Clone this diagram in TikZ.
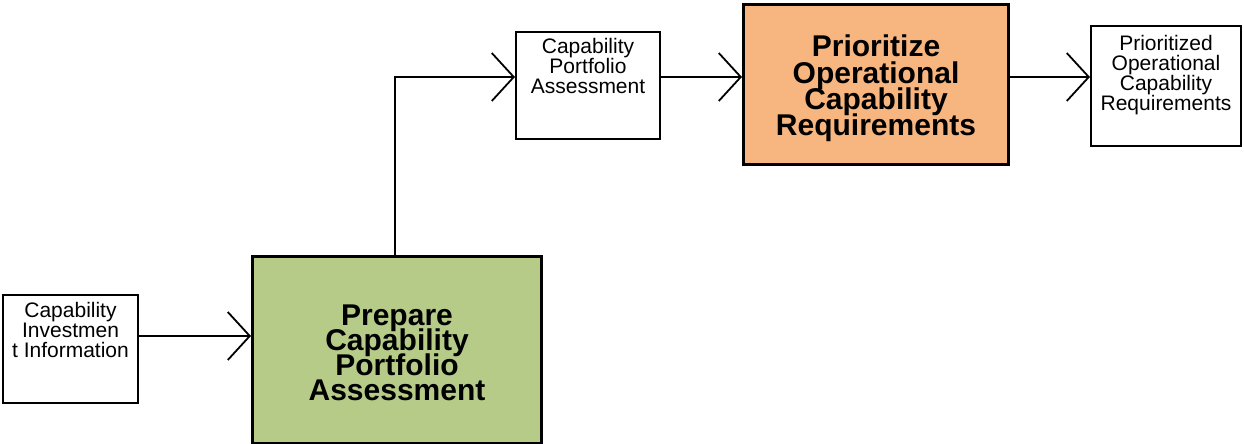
\documentclass[tikz,border=0pt]{standalone}
\usepackage{fontspec}
\setmainfont{Liberation Sans}
\usetikzlibrary{arrows.meta}
\definecolor{pgreen}{RGB}{183,203,136}
\definecolor{porange}{RGB}{247,182,128}
\newcommand\smallfnt{\fontsize{21}{20}\selectfont\lineskiplimit-50pt\relax}
\newcommand\bigfnt{\fontsize{30}{25}\selectfont\bfseries\lineskiplimit-50pt\relax}
\newcommand\bigfntb{\fontsize{30}{26.3}\selectfont\bfseries\lineskiplimit-50pt\relax}
\tikzset{
  databox/.style={draw=black, line width=2pt, fill=white, inner sep=0pt, anchor=north west},
  procbox/.style={draw=black, line width=3pt, inner sep=0pt, anchor=north west},
  smalltext/.style={inner sep=0pt, anchor=north, align=center, font=\smallfnt},
  bigtext/.style={inner sep=0pt, align=center, font=\bigfnt},
  flow/.style={line width=2pt, -{Straight Barb[length=22pt,width=48pt,line width=1.8pt]}},
}
\begin{document}
\begin{tikzpicture}[x=1pt,y=-1pt]
\useasboundingbox (0,0) rectangle (1244,444);
% boxes
\node[databox, minimum width=135pt, minimum height=108pt] (inp) at (2,294) {};
\node[smalltext] (inpt) at ([yshift=-8pt]inp.north) {Capability\\Investmen\\t Information};
\node[procbox, fill=pgreen, minimum width=289pt, minimum height=187pt] (prep) at (251,255) {};
\node[bigtext] (prept) at ([yshift=-2.5pt]prep.center) {Prepare\\Capability\\Portfolio\\Assessment};
\node[databox, minimum width=144pt, minimum height=107pt] (cpa) at (515,31) {};
\node[smalltext] (cpat) at ([yshift=-7pt]cpa.north) {Capability\\Portfolio\\Assessment};
\node[procbox, fill=porange, minimum width=265pt, minimum height=160pt] (prio) at (742,3) {};
\node[bigtext, font=\bigfntb] (priot) at ([yshift=-4pt]prio.center) {Prioritize\\Operational\\Capability\\Requirements};
\node[databox, minimum width=150pt, minimum height=120pt] (outp) at (1090,25) {};
\node[smalltext] (outpt) at ([yshift=-10pt]outp.north) {Prioritized\\Operational\\Capability\\Requirements};
% connectors
\coordinate (up) at (395,77);
\draw[flow] (inp.east |- 0,336) -- (prep.west |- 0,336);
\draw[flow] (prep.north -| up) -- (up) -- (cpa.west |- up);
\draw[flow] (cpa.east |- up) -- (prio.west |- up);
\draw[flow] (prio.east |- up) -- (outp.west |- up);
\end{tikzpicture}
\end{document}
